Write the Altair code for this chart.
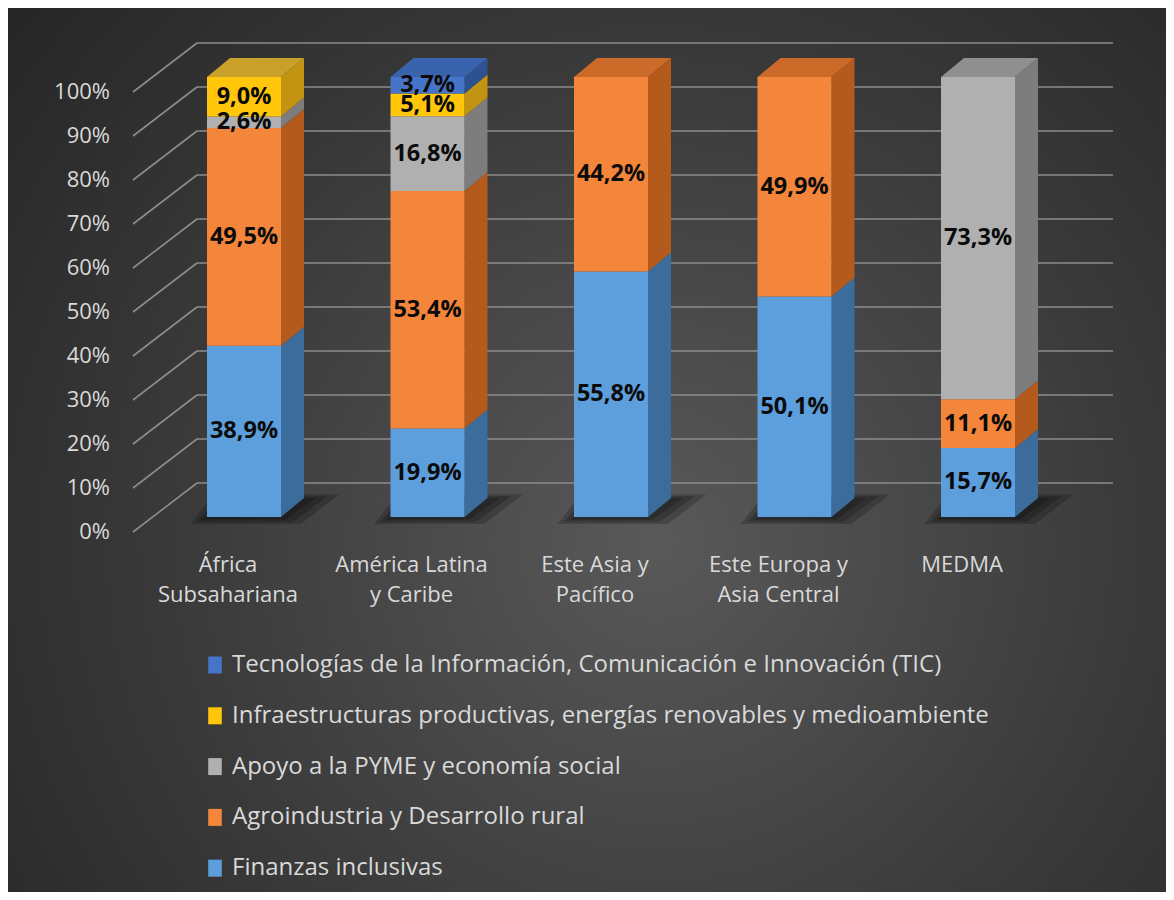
import altair as alt
import pandas as pd

# ---------------- data ----------------
regions = ["África\nSubsahariana", "América Latina\ny Caribe", "Este Asia y\nPacífico",
           "Este Europa y\nAsia Central", "MEDMA"]
categories = [
    "Finanzas inclusivas",
    "Agroindustria y Desarrollo rural",
    "Apoyo a la PYME y economía social",
    "Infraestructuras productivas, energías renovables y medioambiente",
    "Tecnologías de la Información, Comunicación e Innovación (TIC)",
]
finanzas = [38.9, 19.9, 55.8, 50.1, 15.7]
agro = [49.5, 53.4, 44.2, 49.9, 11.1]
pyme = [2.6, 16.8, 0.0, 0.0, 73.3]
infra = [9.0, 5.1, 0.0, 0.0, 0.0]
tic = [0.0, 3.7, 0.0, 0.0, 0.0]
series = [finanzas, agro, pyme, infra, tic]
ticks = [0, 10, 20, 30, 40, 50, 60, 70, 80, 90, 100]

front_colors = ["#5d9fdc", "#f4863b", "#b0b0b0", "#ffc60a", "#4674c8"]
side_colors = ["#3b6c9c", "#b35a1c", "#7d7d7d", "#c39412", "#2e5290"]
top_colors = ["#4a84bc", "#cc6a2a", "#8f8f8f", "#c9a02a", "#3a63ae"]

# ---------------- geometry (pixel -> scale units) ----------------
W, H = 1158, 884
X0, SX = 236.0, 183.5      # bar-front centre of first category, spacing
Y0, SY = 509.0, 4.4        # pixel of 0 % on bar front, px per 1 %
x_dom = [-X0 / SX, (W - X0) / SX]
y_dom = [(Y0 - H) / SY, Y0 / SY]
HALF = 37 / SX             # half width of bar front
DX = 23 / SX               # depth (x)
DY = 19 / SY               # depth (y)
BACK = 34 / SY             # back wall shift
FRONT = 15 / SY            # front floor edge shift
GX0 = (189 - X0) / SX
GX1 = (1105 - X0) / SX
DGX0 = (125 - X0) / SX
LBLX = (102 - X0) / SX
CATY = (Y0 - 547) / SY

xs = alt.Scale(domain=x_dom, nice=False, zero=False)
ys = alt.Scale(domain=y_dom, nice=False, zero=False)

# ---------------- tables ----------------
front_rows, side_rows, top_rows, shadow_rows = [], [], [], []
for i, reg in enumerate(regions):
    total = sum(s[i] for s in series)
    cum = 0.0
    last = None
    for k, cat in enumerate(categories):
        v = series[k][i]
        if v <= 0:
            continue
        y0 = cum / total * 100
        y1 = (cum + v) / total * 100
        cum += v
        seg = f"{i}-{k}"
        front_rows.append(dict(cat=cat, xl=i - HALF, xr=i + HALF, xc=i, y0=y0, y1=y1,
                               ym=(y0 + y1) / 2,
                               label=f"{v:.1f}".replace(".", ",") + "%"))
        side_rows.append(dict(seg=seg, x=i + HALF, y=y0, y2=y1, c=side_colors[k]))
        side_rows.append(dict(seg=seg, x=i + HALF + DX, y=y0 + DY, y2=y1 + DY, c=side_colors[k]))
        last = k
    top_rows.append(dict(bar=i, y=100, x=i - HALF, x2=i + HALF, c=top_colors[last]))
    top_rows.append(dict(bar=i, y=100 + DY, x=i - HALF + DX, x2=i + HALF + DX, c=top_colors[last]))
    # soft floor shadow built from three nested layers
    for lvl, grow in enumerate([0.09, 0.055, 0.02]):
        shadow_rows.append(dict(bar=f"{i}-{lvl}", y=-1.6 + lvl * 0.5,
                                x=i - HALF - grow, x2=i + HALF + grow * 1.2))
        shadow_rows.append(dict(bar=f"{i}-{lvl}", y=DY + 0.8 - lvl * 0.4,
                                x=i - HALF + DX - grow, x2=i + HALF + DX + grow * 1.8 + 0.03))

front = pd.DataFrame(front_rows)
side = pd.DataFrame(side_rows)
top = pd.DataFrame(top_rows)
shadow = pd.DataFrame(shadow_rows)
grid = pd.DataFrame({"t": ticks})
grid["gy"] = grid["t"] + BACK
grid["fy"] = grid["t"] - FRONT
grid["gx0"] = GX0
grid["gx1"] = GX1
grid["dx0"] = DGX0
grid["lx"] = LBLX
grid["lab"] = [f"{t}%" for t in ticks]
cats = pd.DataFrame({"reg": regions, "x": list(range(len(regions)))})
cats["y"] = CATY

# ---------------- layers ----------------
bg = alt.Chart(pd.DataFrame({"a": [0]})).mark_rect(
    color=alt.RadialGradient(
        gradient="radial",
        stops=[alt.GradientStop(color="#595959", offset=0),
               alt.GradientStop(color="#3a3a3a", offset=0.55),
               alt.GradientStop(color="#242424", offset=1)],
        x1=0.56, y1=0.58, x2=0.56, y2=0.58, r1=0, r2=0.75,
    )
).encode(x=alt.value(0), x2=alt.value(W), y=alt.value(0), y2=alt.value(H))

gridlines = alt.Chart(grid).mark_rule(color="#8c8c8c", strokeWidth=1.6).encode(
    x=alt.X("gx0:Q", scale=xs, axis=None), x2="gx1:Q",
    y=alt.Y("gy:Q", scale=ys, axis=None))

diag = alt.Chart(grid).mark_rule(color="#8c8c8c", strokeWidth=1.6).encode(
    x=alt.X("dx0:Q", scale=xs, axis=None), x2="gx0:Q",
    y=alt.Y("fy:Q", scale=ys, axis=None), y2="gy:Q")

shadows = alt.Chart(shadow).mark_area(orient="horizontal", color="#000000", opacity=0.2).encode(
    y=alt.Y("y:Q", scale=ys, axis=None),
    x=alt.X("x:Q", scale=xs, axis=None), x2="x2:Q",
    detail="bar:N")

sides = alt.Chart(side).mark_area(opacity=1).encode(
    x=alt.X("x:Q", scale=xs, axis=None),
    y=alt.Y("y:Q", scale=ys, axis=None), y2="y2:Q",
    color=alt.Color("c:N", scale=None),
    detail="seg:N")

tops = alt.Chart(top).mark_area(orient="horizontal", opacity=1).encode(
    y=alt.Y("y:Q", scale=ys, axis=None),
    x=alt.X("x:Q", scale=xs, axis=None), x2="x2:Q",
    color=alt.Color("c:N", scale=None),
    detail="bar:N")

legend_order = categories[::-1]
legend_colors = front_colors[::-1]
fronts = alt.Chart(front).mark_rect().encode(
    x=alt.X("xl:Q", scale=xs, axis=None), x2="xr:Q",
    y=alt.Y("y0:Q", scale=ys, axis=None), y2="y1:Q",
    color=alt.Color("cat:N", scale=alt.Scale(domain=legend_order, range=legend_colors),
                    legend=alt.Legend(orient="none", legendX=195, legendY=645, title=None,
                                      direction="vertical",
                                      labelFont="Open Sans", labelFontSize=24,
                                      labelColor="#d9d9d9", labelLimit=2000,
                                      labelOffset=5, padding=0, rowPadding=26.8,
                                      symbolType="M-0.8,-1L0.8,-1L0.8,1L-0.8,1Z",
                                      symbolSize=289, symbolStrokeWidth=0,
                                      symbolOpacity=1)))

values = alt.Chart(front).mark_text(font="Open Sans", fontSize=23.5, fontWeight="bold",
                                    color="#0b0b0b", baseline="middle", align="center").encode(
    x=alt.X("xc:Q", scale=xs, axis=None),
    y=alt.Y("ym:Q", scale=ys, axis=None),
    text="label:N")

ylabels = alt.Chart(grid).mark_text(font="Open Sans", fontSize=22, color="#d9d9d9",
                                     align="right", baseline="middle").encode(
    x=alt.X("lx:Q", scale=xs, axis=None),
    y=alt.Y("fy:Q", scale=ys, axis=None),
    text="lab:N")

xlabels = alt.Chart(cats).mark_text(font="Open Sans", fontSize=22, color="#d9d9d9",
                                     align="center", baseline="top", lineBreak="\n",
                                     lineHeight=30, dx=-16).encode(
    x=alt.X("x:Q", scale=xs, axis=None),
    y=alt.Y("y:Q", scale=ys, axis=None),
    text="reg:N")

chart = alt.layer(bg, gridlines, diag, shadows, sides, tops, fronts, values, ylabels, xlabels).properties(
    width=W, height=H, padding=0,
    autosize=alt.AutoSizeParams(type="none"),
    background="#2b2b2b",
).configure_view(stroke=None)

chart.save("out.html", embed_options={"renderer": "svg", "actions": False})
